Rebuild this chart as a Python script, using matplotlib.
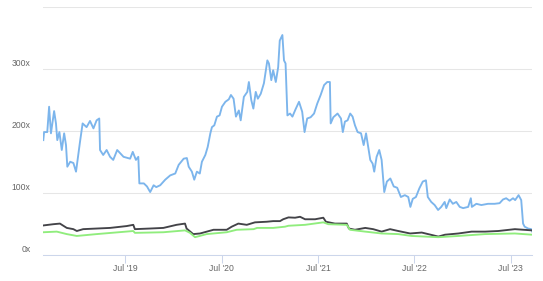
import matplotlib
matplotlib.use("Agg")
import matplotlib.pyplot as plt
import matplotlib.dates as mdates
import matplotlib.transforms as mtransforms
import pandas as pd

plt.rcParams['font.family'] = ['Liberation Sans', 'DejaVu Sans']

# ---------------- data ----------------
blue_dates = [
    "2018-08-25", "2018-08-28", "2018-09-09", "2018-09-16", "2018-09-23", "2018-10-05", "2018-10-12",
    "2018-10-17", "2018-10-25", "2018-11-03", "2018-11-12", "2018-11-19", "2018-11-24", "2018-12-05",
    "2018-12-17", "2018-12-27", "2019-01-01", "2019-01-11", "2019-01-21", "2019-02-05", "2019-02-18",
    "2019-03-03", "2019-03-15", "2019-03-25", "2019-03-28", "2019-04-09", "2019-04-22", "2019-05-05",
    "2019-05-17", "2019-06-01", "2019-06-25", "2019-07-20", "2019-07-30", "2019-08-11", "2019-08-20",
    "2019-08-24", "2019-09-10", "2019-09-22", "2019-10-04", "2019-10-17", "2019-10-27", "2019-11-11",
    "2019-11-30", "2019-12-19", "2020-01-07", "2020-01-20", "2020-02-08", "2020-02-20", "2020-02-27",
    "2020-03-10", "2020-03-19", "2020-03-29", "2020-04-09", "2020-04-17", "2020-04-30", "2020-05-09",
    "2020-05-19", "2020-05-25", "2020-06-03", "2020-06-13", "2020-06-23", "2020-07-02", "2020-07-15",
    "2020-07-28", "2020-08-05", "2020-08-15", "2020-08-24", "2020-09-04", "2020-09-11", "2020-09-23",
    "2020-10-06", "2020-10-12", "2020-10-21", "2020-10-29", "2020-11-07", "2020-11-15", "2020-11-26",
    "2020-12-08", "2020-12-21", "2020-12-27", "2021-01-05", "2021-01-12", "2021-01-22", "2021-01-31",
    "2021-02-06", "2021-02-16", "2021-02-22", "2021-02-28", "2021-03-07", "2021-03-17", "2021-03-26",
    "2021-04-07", "2021-04-20", "2021-05-02", "2021-05-11", "2021-05-21", "2021-06-03", "2021-06-16",
    "2021-06-28", "2021-07-11", "2021-07-24", "2021-08-05", "2021-08-15", "2021-08-18", "2021-08-28",
    "2021-09-13", "2021-09-26", "2021-10-03", "2021-10-11", "2021-10-21", "2021-10-31", "2021-11-09",
    "2021-11-18", "2021-11-28", "2021-12-11", "2021-12-21", "2021-12-30", "2022-01-07", "2022-01-15",
    "2022-01-24", "2022-01-30", "2022-02-08", "2022-02-18", "2022-02-27", "2022-03-09", "2022-03-19",
    "2022-04-01", "2022-04-14", "2022-04-27", "2022-05-11", "2022-05-26", "2022-06-08", "2022-06-16",
    "2022-06-25", "2022-07-07", "2022-07-20", "2022-08-02", "2022-08-14", "2022-08-21", "2022-09-03",
    "2022-09-16", "2022-09-29", "2022-10-11", "2022-10-24", "2022-10-30", "2022-11-12", "2022-11-24",
    "2022-12-07", "2022-12-20", "2023-01-02", "2023-01-21", "2023-01-31", "2023-02-04", "2023-02-21",
    "2023-03-12", "2023-04-06", "2023-05-01", "2023-05-20", "2023-06-02", "2023-06-14", "2023-06-27",
    "2023-07-10", "2023-07-18", "2023-07-31", "2023-08-10", "2023-08-17", "2023-08-23", "2023-09-05",
    "2023-09-17", "2023-09-21",
]
blue_values = [
    185, 198, 198, 239, 196, 232, 212,
    185, 198, 169, 196, 177, 142, 150,
    148, 134, 150, 182, 212, 206, 216,
    204, 217, 220, 169, 161, 169, 158,
    153, 169, 158, 155, 166, 153, 158,
    115, 115, 110, 101, 112, 109, 112,
    121, 128, 131, 145, 155, 156, 142,
    134, 121, 134, 131, 150, 161, 174,
    196, 206, 209, 223, 225, 239, 247,
    251, 258, 252, 223, 233, 217, 255,
    263, 279, 250, 236, 263, 252, 260,
    277, 314, 309, 282, 298, 279, 303,
    346, 355, 314, 309, 225, 228, 223,
    235, 247, 231, 198, 220, 222, 228,
    244, 258, 274, 279, 279, 212, 222,
    228, 220, 198, 215, 217, 228, 223,
    209, 198, 196, 177, 196, 174, 153,
    147, 134, 158, 169, 153, 101, 118,
    123, 110, 108, 93, 96, 93, 77,
    90, 93, 107, 118, 120, 93, 85,
    80, 72, 77, 85, 75, 89, 82,
    85, 77, 75, 77, 91, 77, 82,
    80, 82, 82, 83, 89, 91, 87,
    91, 88, 96, 88, 50, 45, 42,
    41, 37,
]

black_dates = [
    "2018-08-25", "2018-10-02", "2018-10-27", "2018-11-22", "2018-12-17", "2018-12-30", "2019-01-23",
    "2019-03-15", "2019-05-05", "2019-07-07", "2019-08-01", "2019-08-07", "2019-10-03", "2019-11-23",
    "2020-01-12", "2020-02-13", "2020-02-19", "2020-03-15", "2020-04-10", "2020-05-31", "2020-07-20",
    "2020-08-08", "2020-09-02", "2020-10-04", "2020-11-04", "2020-12-19", "2021-01-12", "2021-02-07",
    "2021-02-19", "2021-03-11", "2021-04-05", "2021-04-24", "2021-05-13", "2021-06-20", "2021-07-21",
    "2021-07-31", "2021-09-03", "2021-10-18", "2021-10-26", "2021-11-18", "2021-12-27", "2022-01-26",
    "2022-02-27", "2022-03-31", "2022-05-01", "2022-06-15", "2022-07-29", "2022-09-30", "2022-10-25",
    "2022-12-15", "2023-02-03", "2023-03-26", "2023-05-15", "2023-07-17", "2023-09-21",
]
black_values = [
    47, 49, 50, 43, 41, 38, 41,
    42, 43, 46, 48, 41, 42, 43,
    48, 50, 42, 33, 34, 40, 40,
    45, 50, 48, 52, 53, 54, 54,
    57, 60, 59.5, 61, 57, 57, 59.5,
    53, 50, 50, 42, 40, 43, 41,
    37, 41, 38, 34, 35.5, 29, 32,
    34, 37, 37, 38, 41, 39,
]

green_dates = [
    "2018-08-25", "2018-10-15", "2018-11-22", "2018-12-30", "2019-03-15", "2019-08-01", "2019-08-07",
    "2019-11-23", "2020-02-13", "2020-03-03", "2020-03-22", "2020-05-05", "2020-07-20", "2020-08-27",
    "2020-10-30", "2020-11-12", "2021-01-12", "2021-02-26", "2021-03-11", "2021-05-13", "2021-07-21",
    "2021-08-09", "2021-10-18", "2021-10-30", "2021-12-27", "2022-02-27", "2022-05-01", "2022-06-21",
    "2022-09-30", "2022-12-15", "2023-03-26", "2023-07-17", "2023-09-21",
]
green_values = [
    36, 37, 33, 30, 33, 38, 35,
    36, 39, 35, 28, 33, 36, 40,
    41, 43, 43, 45, 46.5, 48, 52,
    49, 48, 40, 37, 34, 33, 30,
    28, 30, 33, 34, 32,
]

y_ticks = [0, 100, 200, 300, 400]
y_labels = ["0x", "100x", "200x", "300x", ""]
x_ticks = ["2019-07-01", "2020-07-01", "2021-07-01", "2022-07-01", "2023-07-01"]
x_labels = ["Jul '19", "Jul '20", "Jul '21", "Jul '22", "Jul '23"]

# ---------------- plot ----------------
W, H = 543, 281
fig = plt.figure(figsize=(W / 100, H / 100), dpi=100)
left, right, bottom, top = 43.3, 532.3, 254.5, 7.2
ax = fig.add_axes([left / W, (H - bottom) / H, (right - left) / W, (bottom - top) / H])

bd = pd.to_datetime(blue_dates)
kd = pd.to_datetime(black_dates)
gd = pd.to_datetime(green_dates)

lw = 1.35
ax.plot(bd, blue_values, color="#7cb5ec", lw=lw, solid_joinstyle="round", zorder=3)
ax.plot(kd, black_values, color="#434348", lw=lw, solid_joinstyle="round", zorder=3)
ax.plot(gd, green_values, color="#90ed7d", lw=lw, solid_joinstyle="round", zorder=3)

ax.set_xlim(bd.min(), bd.max())
ax.set_ylim(0, 400)

for s in ["top", "right", "left"]:
    ax.spines[s].set_visible(False)
ax.spines["bottom"].set_color("#ccd6eb")
ax.spines["bottom"].set_linewidth(0.75)
ax.spines["bottom"].set_zorder(4)

ax.set_yticks(y_ticks)
ax.set_yticklabels([])
ax.tick_params(axis="y", length=0)
ax.grid(axis="y", color="#e6e6e6", lw=0.75, zorder=0)

trans = mtransforms.blended_transform_factory(ax.transAxes, ax.transData) + \
    mtransforms.ScaledTranslation(-12.6 / 100, 5.5 / 100, fig.dpi_scale_trans)
for v, lab in zip(y_ticks, y_labels):
    if lab:
        ax.text(0, v, lab, transform=trans, ha="right", va="center",
                fontsize=6.2, color="#666666")

ax.set_xticks(pd.to_datetime(x_ticks))
ax.set_xticklabels(x_labels, fontsize=6.2, color="#666666")
ax.tick_params(axis="x", length=5.4, width=0.75, color="#ccd6eb", pad=1.5)

fig.savefig("out.png", dpi=100)
